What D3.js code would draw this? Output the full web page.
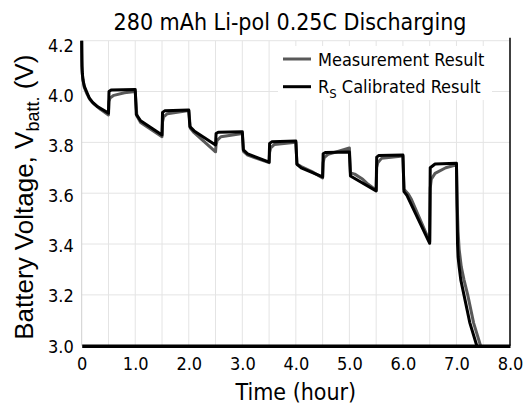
<!DOCTYPE html>
<html><head><meta charset="utf-8">
<script src="https://cdn.jsdelivr.net/npm/d3@7"></script>
<style>body{margin:0;background:#fff}svg{display:block}</style>
</head><body>
<svg id="c" width="529" height="409"></svg>
<script>
// ---- data ----
const title = "280 mAh Li-pol 0.25C Discharging";
const xTicks = [0, 1, 2, 3, 4, 5, 6, 7, 8];
const xTickLabels = ["0", "1.0", "2.0", "3.0", "4.0", "5.0", "6.0", "7.0", "8.0"];
const yTicks = [3.0, 3.2, 3.4, 3.6, 3.8, 4.0, 4.2];
const yTickLabels = ["3.0", "3.2", "3.4", "3.6", "3.8", "4.0", "4.2"];
const seriesNames = ["Measurement Result", "Calibrated Result"];
const measTime = [0, 0.003, 0.008, 0.02, 0.05, 0.1, 0.15, 0.22, 0.35, 0.5,
  0.51, 0.53, 0.6, 0.8, 1.0,
  1.03, 1.1, 1.5,
  1.51, 1.53, 1.6, 2.0,
  2.03, 2.1, 2.5,
  2.51, 2.53, 2.6, 3.0,
  3.02, 3.1, 3.5,
  3.51, 3.53, 3.6, 4.0,
  4.02, 4.1, 4.3, 4.5,
  4.51, 4.53, 4.6, 4.8, 5.0,
  5.02, 5.1, 5.25, 5.35, 5.5,
  5.51, 5.53, 5.6, 6.0,
  6.02, 6.1, 6.16, 6.5,
  6.51, 6.53, 6.6, 6.8, 7.0,
  7.015, 7.03, 7.05, 7.09, 7.14, 7.21, 7.32, 7.45];
const measVolt = [4.2, 4.12, 4.08, 4.05, 4.015, 3.99, 3.97, 3.953, 3.93, 3.908,
  3.96, 3.975, 3.985, 3.995, 4.0,
  3.905, 3.878, 3.822,
  3.88, 3.9, 3.913, 3.925,
  3.855, 3.838, 3.763,
  3.79, 3.808, 3.822, 3.835,
  3.765, 3.75, 3.72,
  3.76, 3.778, 3.792, 3.8,
  3.715, 3.705, 3.685, 3.66,
  3.72, 3.74, 3.753, 3.765, 3.778,
  3.68, 3.675, 3.655, 3.635, 3.612,
  3.70, 3.72, 3.737, 3.746,
  3.615, 3.597, 3.575, 3.41,
  3.62, 3.655, 3.678, 3.70, 3.712,
  3.55, 3.45, 3.38, 3.31, 3.26, 3.20, 3.09, 3.0];
const calTime = [0, 0.002, 0.005, 0.012, 0.025, 0.05, 0.09, 0.14, 0.2, 0.3, 0.5,
  0.51, 0.55, 1.0,
  1.02, 1.1, 1.5,
  1.51, 1.55, 2.0,
  2.02, 2.1, 2.5,
  2.51, 2.55, 3.0,
  3.02, 3.1, 3.5,
  3.51, 3.55, 4.0,
  4.02, 4.1, 4.5,
  4.51, 4.55, 5.0,
  5.02, 5.1, 5.5,
  5.51, 5.55, 6.0,
  6.02, 6.07, 6.5,
  6.51, 6.6, 7.0,
  7.01, 7.02, 7.03, 7.05, 7.08, 7.14, 7.25, 7.38];
const calVolt = [4.2, 4.15, 4.10, 4.07, 4.045, 4.02, 4.0, 3.975, 3.958, 3.94, 3.915,
  4.0, 4.006, 4.008,
  3.91, 3.885, 3.829,
  3.918, 3.924, 3.927,
  3.862, 3.845, 3.79,
  3.835, 3.84, 3.842,
  3.77, 3.755, 3.722,
  3.796, 3.802, 3.805,
  3.714, 3.70, 3.664,
  3.755, 3.76, 3.762,
  3.668, 3.658, 3.609,
  3.742, 3.748, 3.75,
  3.606, 3.593, 3.403,
  3.70, 3.715, 3.718,
  3.55, 3.40, 3.35, 3.31, 3.26, 3.20, 3.09, 3.0];

// ---- layout ----
const svg = d3.select("#c");
const L = 81.7, R = 510, T = 40.7, B = 345.7;
const x = d3.scaleLinear().domain([0, 8]).range([L, R]);
const y = d3.scaleLinear().domain([3.0, 4.2]).range([B, T]);
const font = "'DejaVu Sans Condensed', 'DejaVu Sans', sans-serif";

// grid
const gx = d3.range(1, 16).map(i => i * 0.5);
svg.append("g").selectAll("line").data(gx).join("line")
  .attr("x1", d => x(d)).attr("x2", d => x(d)).attr("y1", T).attr("y2", B)
  .attr("stroke", "#e4e4e4").attr("stroke-width", 1);
svg.append("g").selectAll("line").data(yTicks.slice(1)).join("line")
  .attr("x1", L).attr("x2", R).attr("y1", d => y(d)).attr("y2", d => y(d))
  .attr("stroke", "#e4e4e4").attr("stroke-width", 1);
// left axis (light), right border
svg.append("line").attr("x1", L).attr("x2", L).attr("y1", T).attr("y2", B)
  .attr("stroke", "#cfcfcf").attr("stroke-width", 1);
svg.append("line").attr("x1", R).attr("x2", R).attr("y1", T - 3).attr("y2", B)
  .attr("stroke", "#000").attr("stroke-width", 1.5);

// legend background
svg.append("rect").attr("x", 278).attr("y", 46).attr("width", 214).attr("height", 54).attr("fill", "#fff");

// lines
const line = (ts, vs) => d3.line()
  .x((d, i) => x(ts[i])).y((d, i) => y(vs[i]))(ts);
svg.append("path").attr("d", line(measTime, measVolt)).attr("fill", "none")
  .attr("stroke", "#595959").attr("stroke-width", 3).attr("stroke-linejoin", "round");
svg.append("path").attr("d", line(calTime, calVolt)).attr("fill", "none")
  .attr("stroke", "#000").attr("stroke-width", 3).attr("stroke-linejoin", "round");

// bottom axis
const xAxis = d3.axisBottom(x).tickValues(xTicks).tickSize(0).tickPadding(0)
  .tickFormat((d, i) => xTickLabels[i]);
const gxa = svg.append("g").attr("transform", `translate(0,${B})`).call(xAxis);
gxa.select(".domain").attr("stroke", "#000").attr("stroke-width", 3.5);
gxa.selectAll("text").attr("font-family", font).attr("font-size", 18)
  .attr("fill", "#000").attr("dy", 0).attr("y", 24.5);

// left axis labels
const yAxis = d3.axisLeft(y).tickValues(yTicks).tickSize(0).tickPadding(8)
  .tickFormat((d, i) => yTickLabels[i]);
const gya = svg.append("g").attr("transform", `translate(${L},0)`).call(yAxis);
gya.select(".domain").remove();
gya.selectAll("text").attr("font-family", font).attr("font-size", 18)
  .attr("fill", "#000").attr("dy", (d) => (0.35 + (d - 3.0) * 0.2) + "em");

// title
svg.append("text").attr("x", 290).attr("y", 30).attr("text-anchor", "middle")
  .attr("font-family", font).attr("font-size", 23).text(title);
// x label
svg.append("text").attr("x", (L + R) / 2).attr("y", 400).attr("text-anchor", "middle")
  .attr("font-family", font).attr("font-size", 23).text("Time (hour)");
// y label
const yl = svg.append("text").attr("transform", `translate(33,${(T + B) / 2 + 4}) rotate(-90)`)
  .attr("text-anchor", "middle").attr("font-family", "'Liberation Sans', Arial, sans-serif")
  .attr("font-size", 26);
yl.append("tspan").text("Battery Voltage, V");
yl.append("tspan").attr("font-size", 18).attr("dy", 6).text("batt.");
yl.append("tspan").attr("dy", -6).text(" (V)");

// legend
const leg = [{ name: seriesNames[0], c: "#595959", y: 59 }, { name: seriesNames[1], c: "#000", y: 86.7 }];
leg.forEach((d, i) => {
  svg.append("line").attr("x1", 283).attr("x2", 311).attr("y1", d.y).attr("y2", d.y)
    .attr("stroke", d.c).attr("stroke-width", 3);
  const t = svg.append("text").attr("x", 318).attr("y", d.y + 6.5)
    .attr("font-family", font).attr("font-size", 18);
  if (i === 0) t.text(d.name);
  else {
    t.append("tspan").text("R");
    t.append("tspan").attr("font-size", 13).attr("dy", 5).text("S");
    t.append("tspan").attr("dy", -5).text(" " + d.name);
  }
});
</script>
</body></html>
